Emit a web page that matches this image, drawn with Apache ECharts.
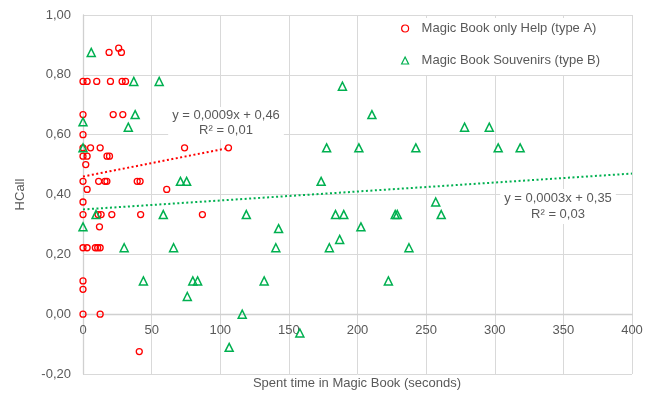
<!DOCTYPE html>
<html>
<head>
<meta charset="utf-8">
<script src="https://cdn.jsdelivr.net/npm/echarts@6/dist/echarts.min.js"></script>
<style>html,body{margin:0;padding:0;background:#fff}#c{width:659px;height:401px}</style>
</head>
<body>
<div id="c"></div>
<script>
// ---- data ----
const seriesNames = ['Magic Book only Help (type A)', 'Magic Book Souvenirs (type B)'];
const typeA = [
  [19, 0.875], [26, 0.889], [28, 0.875],
  [0, 0.778], [3, 0.778], [10, 0.778], [20, 0.778], [28.5, 0.778], [31, 0.778],
  [0, 0.667], [22, 0.667], [29, 0.667],
  [0, 0.6],
  [0, 0.556], [5.5, 0.556], [12.5, 0.556], [74, 0.556], [106, 0.556],
  [0, 0.528], [3, 0.528], [17.5, 0.528], [19.3, 0.528],
  [2, 0.5],
  [0, 0.444], [11.4, 0.444], [16, 0.444], [17.4, 0.444], [39.5, 0.444], [41.6, 0.444],
  [3, 0.417], [61, 0.417],
  [0, 0.375],
  [0, 0.333], [11, 0.333], [13.2, 0.333], [21, 0.333], [42, 0.333], [87, 0.333],
  [12, 0.292],
  [0, 0.222], [3, 0.222], [9, 0.222], [10.7, 0.222], [12.5, 0.222],
  [0, 0.111], [0, 0.083],
  [0, 0], [12.5, 0],
  [41, -0.125]
];
const typeB = [
  [6, 0.875], [37, 0.778], [55.5, 0.778], [38, 0.667], [0, 0.643], [33, 0.625], [0, 0.556],
  [71, 0.444], [75.5, 0.444], [9.5, 0.333], [0, 0.292], [30, 0.222], [44, 0.111],
  [58.5, 0.333], [66, 0.222], [76, 0.059], [80, 0.111], [83.5, 0.111],
  [106.5, -0.111], [116, 0], [119, 0.333], [132, 0.111], [140.5, 0.222], [142.5, 0.286], [158, -0.063],
  [173.5, 0.444], [177.5, 0.556], [179.5, 0.222], [184, 0.333], [187, 0.25], [189, 0.762],
  [190, 0.333], [201, 0.556], [202.5, 0.292], [210.5, 0.667],
  [222.5, 0.111], [227.5, 0.333], [229, 0.333], [237.5, 0.222], [242.5, 0.556], [257, 0.375],
  [261, 0.333], [278, 0.625], [296, 0.625], [302.5, 0.556], [318.5, 0.556]
];
// trendlines: [slope, intercept, xStart, xEnd]
const trendA = [0.0009, 0.46, 0, 106];
const trendB = [0.0003, 0.35, 0, 400];
const trendLabels = ['y = 0,0009x + 0,46\nR² = 0,01', 'y = 0,0003x + 0,35\nR² = 0,03'];
const xTitle = 'Spent time in Magic Book (seconds)';
const yTitle = 'HCall';

const FONT = '"Liberation Sans", Arial, sans-serif';
const TXT = '#595959';
const RED = '#ff0000';
const GREEN = '#00b050';
const trendPts = t => [[t[2], t[0]*t[2] + t[1]], [t[3], t[0]*t[3] + t[1]]];

const chart = echarts.init(document.getElementById('c'), null, {renderer: 'canvas'});
chart.setOption({
  animation: false,
  backgroundColor: '#fff',
  textStyle: {fontFamily: FONT, color: TXT},
  grid: {left: 83, right: 27, top: 15, bottom: 27, containLabel: false},
  xAxis: {
    type: 'value', min: 0, max: 400, interval: 50,
    position: 'bottom', offset: -60,
    axisLine: {show: true, onZero: false, lineStyle: {color: '#d0d0d0', width: 1.3}},
    axisTick: {show: false},
    axisLabel: {color: TXT, fontSize: 13, fontFamily: FONT, margin: 10},
    splitLine: {show: true, lineStyle: {color: '#d9d9d9', width: 1}}
  },
  yAxis: {
    type: 'value', min: -0.2, max: 1.0, interval: 0.2,
    name: yTitle, nameLocation: 'middle', nameGap: 56,
    nameTextStyle: {color: TXT, fontSize: 13, fontFamily: FONT},
    axisLine: {show: true, onZero: false, lineStyle: {color: '#d0d0d0', width: 1.3}},
    axisTick: {show: false},
    axisLabel: {color: TXT, fontSize: 13, fontFamily: FONT, margin: 12,
      formatter: v => v.toFixed(2).replace('.', ',')},
    splitLine: {show: true, lineStyle: {color: '#d9d9d9', width: 1}}
  },
  legend: {
    orient: 'vertical', left: 388, top: 18,
    backgroundColor: '#fff',
    padding: [4, 22, 8, 13],
    itemWidth: 7, itemHeight: 7, itemGap: 19,
    textStyle: {color: TXT, fontSize: 13, fontFamily: FONT, padding: [0, 0, 0, 8]},
    data: [
      {name: seriesNames[0], itemStyle: {borderWidth: 1.2}},
      {name: seriesNames[1], itemStyle: {borderWidth: 1.2}}
    ]
  },
  series: [
    {
      type: 'line', data: trendPts(trendA), symbol: 'none', silent: true, z: 1,
      lineStyle: {color: RED, width: 2, type: [2, 2.5]}
    },
    {
      type: 'line', data: trendPts(trendB), symbol: 'none', silent: true, z: 1,
      lineStyle: {color: GREEN, width: 2, type: [2, 2.5]}
    },
    {
      name: seriesNames[0], type: 'scatter', data: typeA, symbol: 'circle', symbolSize: 6, z: 3,
      itemStyle: {color: 'rgba(255,255,255,0)', borderColor: RED, borderWidth: 1.3, opacity: 1}
    },
    {
      name: seriesNames[1], type: 'scatter', data: typeB, symbol: 'triangle', symbolSize: 8, z: 3,
      itemStyle: {color: 'rgba(255,255,255,0)', borderColor: GREEN, borderWidth: 1.5, opacity: 1}
    }
  ],
  graphic: [
    {
      type: 'text', z: 10,
      style: {x: 226, y: 107, text: trendLabels[0], align: 'center', verticalAlign: 'top',
        font: '13px ' + FONT, fill: TXT, lineHeight: 15, backgroundColor: '#fff', padding: [1, 4, 2, 4]}
    },
    {
      type: 'text', z: 10,
      style: {x: 558, y: 189, text: trendLabels[1], align: 'center', verticalAlign: 'top',
        font: '13px ' + FONT, fill: TXT, lineHeight: 16, backgroundColor: '#fff', padding: [1, 4, 2, 4]}
    },
    {
      type: 'text', z: 10,
      style: {x: 357, y: 377, text: xTitle, align: 'center', verticalAlign: 'top',
        font: '13px ' + FONT, fill: TXT}
    }
  ]
});
</script>
</body>
</html>
